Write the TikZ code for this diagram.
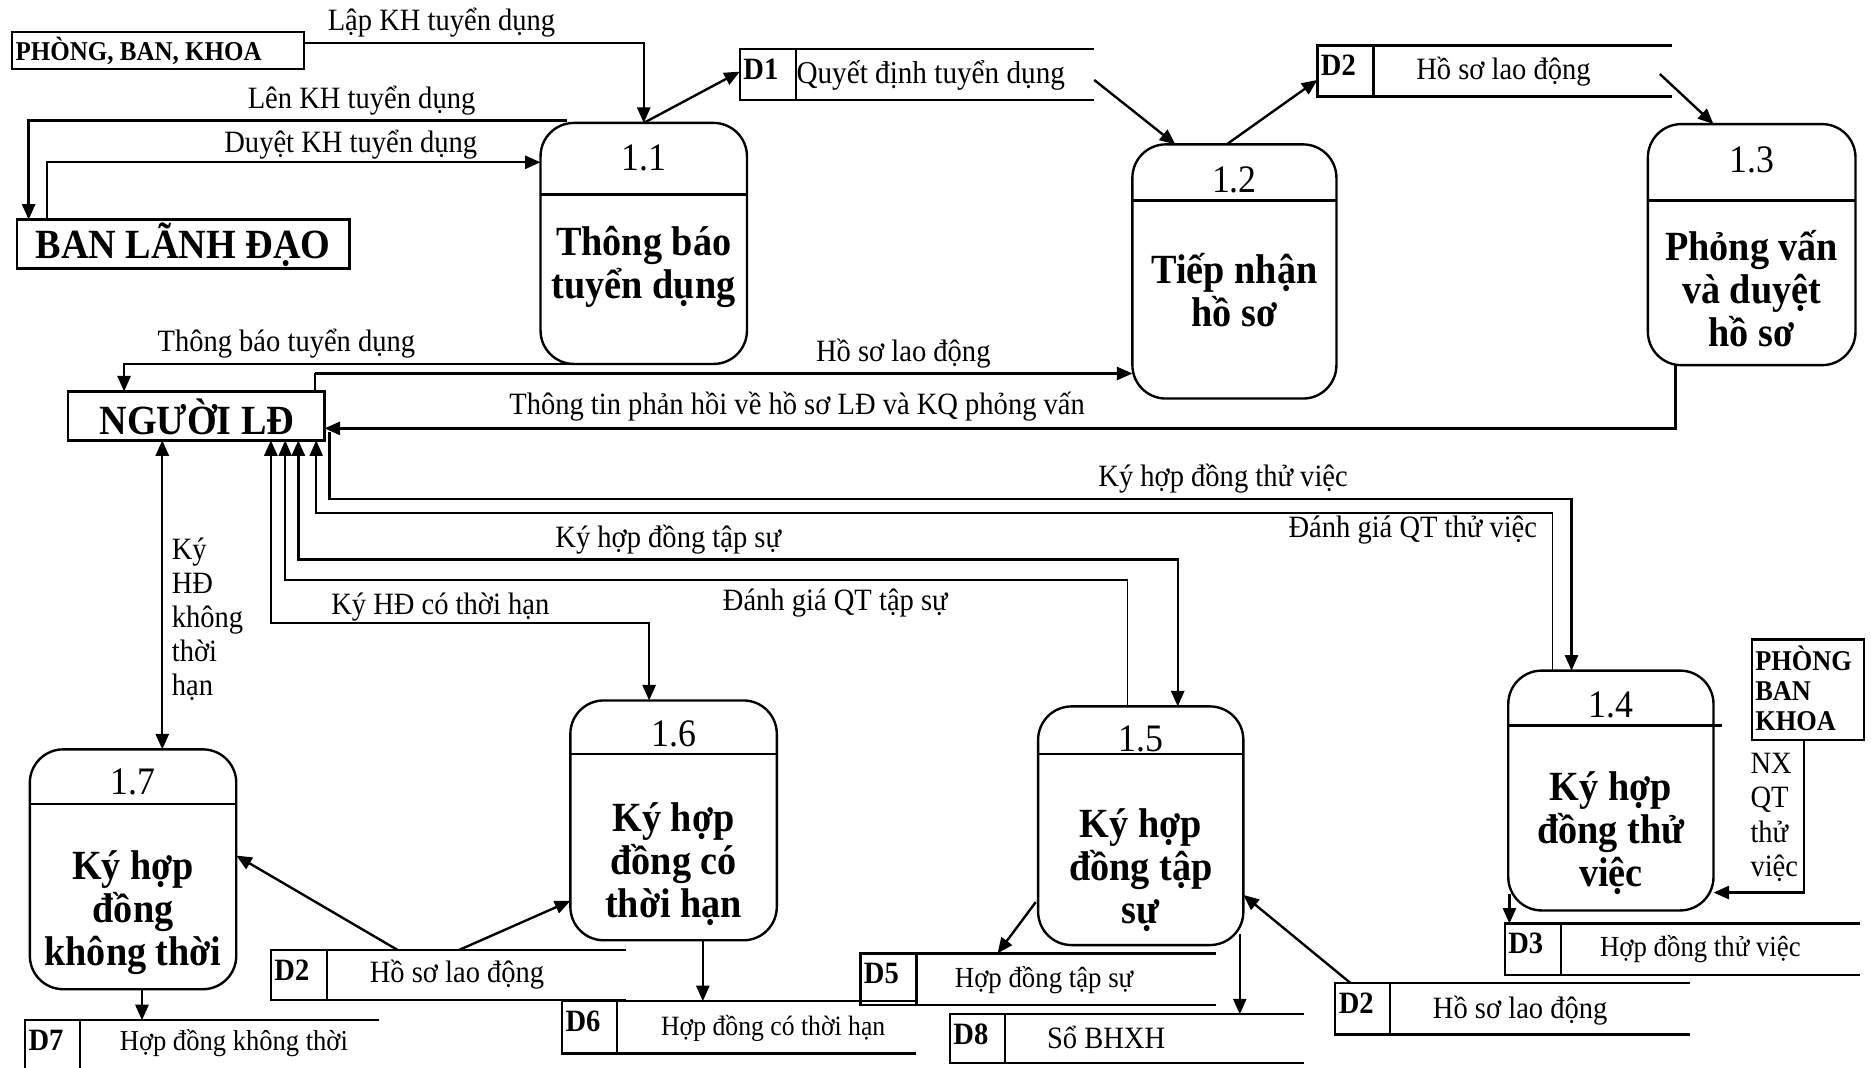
\documentclass[tikz,border=0pt]{standalone}
\usepackage{fontspec}
% slightly condensed Times-metric serif, as in the printed chart
\setmainfont{Liberation Serif}[FakeStretch=0.92]
\usetikzlibrary{arrows.meta,fit}

% process: name, x1, y1, x2, y2, divider y, number, number y
\newcommand\pbox[8]{%
  \node[proc, fit={(#2,#3)(#4,#5)}] (#1) {};
  \draw (#2,#6) -- (#4,#6);
  \node[pnum] at ({(#2+#4)/2},#8) {#7};
}
% data store: name, left, top, bottom, divider x, right, id
\newcommand\dstore[7]{%
  \node[area, fit={(#2,#3)(#6,#4)}] (#1) {};
  \draw (#6,#3) -- (#2,#3) -- (#2,#4) -- (#6,#4) (#5,#3) -- (#5,#4);
  \node[sid] at ({#2+2},{#3+17}) {#7};
}

\begin{document}
\begin{tikzpicture}[x=0.5pt,y=-0.5pt,line width=1pt,
  ent/.style={draw, inner sep=0pt, outer sep=0pt},
  proc/.style={draw, rounded corners=14pt, inner sep=0pt, outer sep=0pt},
  area/.style={inner sep=0pt, outer sep=0pt},
  tip/.style={-{Triangle[length=6.5pt,width=5.5pt]}},
  tips/.style={{Triangle[length=6.5pt,width=5.5pt]}-{Triangle[length=6.5pt,width=5.5pt]}},
  fine/.style={line width=0.6pt},
  lbl/.style={inner sep=0pt, font=\fontsize{13}{14}\selectfont},
  pname/.style={inner sep=0pt, align=center, font=\fontsize{17.4}{18}\selectfont\bfseries},
  pnum/.style={inner sep=0pt, font=\fontsize{16.3}{17}\selectfont},
  sid/.style={inner sep=0pt, anchor=west, font=\fontsize{13}{14}\selectfont\bfseries},
  ename/.style={inner sep=0pt, font=\fontsize{17.4}{18}\selectfont\bfseries},
]
\useasboundingbox (0,0) rectangle (1568,895);

% ---------- external entities ----------
\node[ent, fit={(10,27)(255,58)}] (pbk1) {};
\node[inner sep=0pt, anchor=west, font=\fontsize{11.4}{12}\selectfont\bfseries] at (12,43) {PHÒNG, BAN, KHOA};
\node[ent, fit={(14,184)(293,225)}] (bld) {};
\node[ename] at (153.5,205) {BAN LÃNH ĐẠO};
\node[ent, fit={(57,328)(272,369)}] (nld) {};
\node[ename] at (165,349) {NGƯỜI LĐ};
\node[ent, fit={(1468,536)(1562,620)}] (pbk2) {};
\node[inner sep=0pt, anchor=west, align=left, font=\fontsize{12}{12.5}\selectfont\bfseries] at (1470,577) {PHÒNG\\BAN\\KHOA};

% ---------- processes ----------
\pbox{p11}{453}{103}{626}{305}{163}{1.1}{132}
\node[pname] at (539.5,223.5) {Thông báo\\tuyển dụng};
\pbox{p12}{949}{121}{1120}{334}{168}{1.2}{151}
\node[pname] at (1034.5,243) {Tiếp nhận\\hồ sơ};
\pbox{p13}{1381}{104}{1555}{306}{168}{1.3}{134}
\node[pname] at (1468,242) {Phỏng vấn\\và duyệt\\hồ sơ};
\pbox{p14}{1264}{562}{1436}{763}{608}{1.4}{591}
\draw (1436,608) -- (1443,608);
\node[pname] at (1350,698.5) {Ký hợp\\đồng thử\\việc};
\pbox{p15}{870}{592}{1042}{792}{632}{1.5}{619}
\node[pname] at (956,729.5) {Ký hợp\\đồng tập\\sự};
\pbox{p16}{478}{587}{651}{788}{632}{1.6}{615}
\node[pname] at (564.5,724.5) {Ký hợp\\đồng có\\thời hạn};
\pbox{p17}{25}{628}{198}{829}{674}{1.7}{655}
\node[pname] at (111.5,765) {Ký hợp\\đồng\\không thời};

% ---------- data stores ----------
\dstore{d1}{620}{41}{84}{667}{917}{D1}
\node[lbl, font=\fontsize{13.3}{14}\selectfont] at (780,63) {Quyết định tuyển dụng};
\dstore{d2a}{1104}{38}{81}{1151}{1401}{D2}
\node[lbl] at (1260,60) {Hồ sơ lao động};
\dstore{d2b}{227}{796}{838}{274}{525}{D2}
\node[lbl] at (383,817) {Hồ sơ lao động};
\node[area, fit={(21,855)(318,895)}] (d7) {};
\draw (318,855) -- (21,855) -- (21,895) (67,855) -- (67,895);
\node[sid] at (23,872) {D7};
\node[lbl, font=\fontsize{12.1}{13}\selectfont] at (196,874) {Hợp đồng không thời};
\dstore{d6}{471}{839}{883}{517}{768}{D6}
\node[lbl, font=\fontsize{11.7}{13}\selectfont] at (648,862) {Hợp đồng có thời hạn};
\dstore{d5}{721}{799}{842}{768}{1019}{D5}
\draw (d6.north east) -- (d6.north -| d5.west);
\node[lbl, font=\fontsize{12.2}{13}\selectfont] at (875,821) {Hợp đồng tập sự};
\dstore{d8}{796}{850}{891}{842}{1093}{D8}
\node[lbl] at (927,869) {Sổ BHXH};
\dstore{d2c}{1119}{824}{867}{1165}{1416}{D2}
\node[lbl] at (1274,847) {Hồ sơ lao động};
\dstore{d3}{1261}{774}{817}{1308}{1559}{D3}
\node[lbl, font=\fontsize{12.2}{13}\selectfont] at (1425,795) {Hợp đồng thử việc};

% ---------- flows: planning ----------
\draw[tip] (pbk1.east |- 0,36) -| (p11.north);
\node[lbl] at (370,19) {Lập KH tuyển dụng};
\draw[tip] (475,101) -| (bld.north -| 24,0);
\node[lbl] at (303,84) {Lên KH tuyển dụng};
\draw[tip] (bld.north -| 39.5,0) |- (p11.west |- 0,136);
\node[lbl] at (294,121) {Duyệt KH tuyển dụng};

% ---------- flows: stores along the top ----------
\draw[tip] (p11.north) -- (d1.west |- 0,60);
\draw[tip] (d1.east |- 0,67) -- (p12.north -| 985,0);
\draw[tip] (p12.north -| 1028,0) -- (d2a.west |- 0,67);
\draw[tip] (1391,62) -- (p13.north -| 1436,0);

% ---------- flows: applicant ----------
\draw[tip] (p11.south -| 480,0) -| (nld.north -| 104,0);
\node[lbl] at (240,288) {Thông báo tuyển dụng};
\draw[fine] (nld.north -| 264,0) -- (264,313);
\draw[tip] (264,313) -- (p12.west |- 0,313);
\node[lbl] at (757,296) {Hồ sơ lao động};
\draw[tip] (p13.south -| 1404,0) |- (nld.east |- 0,359);
\node[lbl] at (668,341) {Thông tin phản hồi về hồ sơ LĐ và KQ phỏng vấn};

% ---------- flows: contracts ----------
\draw[tip] (276,362) -- (276,418) -| (p14.north -| 1317,0);
\node[lbl] at (1025,401) {Ký hợp đồng thử việc};
\draw[tip, fine] (p14.north -| 1301,0) |- (265,430) -- (nld.south -| 265,0);
\node[lbl] at (1184,444) {Đánh giá QT thử việc};
\draw[tips] (nld.south -| 250,0) |- (987,469) -- (p15.north -| 987,0);
\node[lbl] at (560,452) {Ký hợp đồng tập sự};
\draw[tip, fine] (p15.north -| 945,0) |- (239,486) -- (nld.south -| 239,0);
\node[lbl] at (700,505) {Đánh giá QT tập sự};
\draw[tips] (nld.south -| 227,0) |- (544,522) -- (p16.north -| 544,0);
\node[lbl] at (369,509) {Ký HĐ có thời hạn};
\draw[tips] (nld.south -| 136,0) -- (p17.north -| 136,0);
\node[lbl, anchor=west, align=left, font=\fontsize{13}{14.2}\selectfont] at (143,519) {Ký\\HĐ\\không\\thời\\hạn};
\draw[tip] (pbk2.south -| 1512,0) |- (p14.east |- 0,748);
\node[lbl, anchor=west, align=left, font=\fontsize{13}{14.5}\selectfont] at (1466,685) {NX\\QT\\thử\\việc};

% ---------- flows: lower stores ----------
\draw[tip] (d2b.north -| 333,0) -- (p17.east |- 0,717);
\draw[tip] (d2b.north -| 385,0) -- (p16.west |- 0,755);
\draw[tip] (p17.south -| 119,0) -- (d7.north -| 119,0);
\draw[tip] (p16.south -| 589,0) -- (d6.north -| 589,0);
\draw[tip] (868,756) -- (d5.north -| 836,0);
\draw[tip] (1039,783) -- (d8.north -| 1039,0);
\draw[tip] (d2c.north -| 1132,0) -- (p15.east |- 0,750);
\draw[tip] (1265,749) -- (d3.north -| 1265,0);
\end{tikzpicture}
\end{document}
